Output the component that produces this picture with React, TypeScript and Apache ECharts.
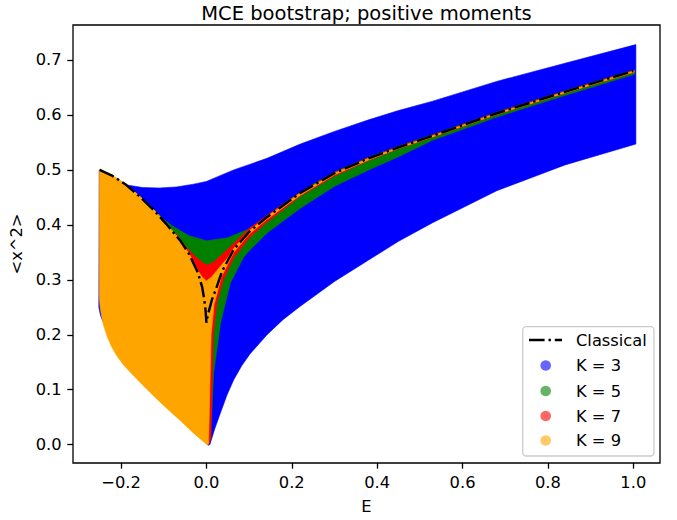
import React, { useEffect, useRef } from "react";
import * as echarts from "echarts";

type Pt = [number, number];

const titleText = "MCE bootstrap; positive moments";
const xTicks = [-0.2, 0.0, 0.2, 0.4, 0.6, 0.8, 1.0];
const yTicks = [0.0, 0.1, 0.2, 0.3, 0.4, 0.5, 0.6, 0.7];
const legendNames = ["Classical", "K = 3", "K = 5", "K = 7", "K = 9"];
const regionColors = ["#0000ff", "#008000", "#ff0000", "#ffa500"];
const legendColors = ["rgba(0,0,255,0.6)", "rgba(0,128,0,0.6)", "rgba(255,0,0,0.6)", "rgba(255,165,0,0.6)"];

// Classical <x^2>(E), dash-dot curve (left branch down to the cusp, then right branch)
const classical: Pt[] = [
  [-0.25, 0.5], [-0.22, 0.489], [-0.19, 0.474], [-0.15, 0.447], [-0.12, 0.424],
  [-0.09, 0.398], [-0.06, 0.37], [-0.04, 0.346], [-0.02, 0.313], [-0.01, 0.287],
  [-0.005, 0.264], [-0.002, 0.245], [0.0, 0.222], [0.003, 0.235], [0.013, 0.264],
  [0.021, 0.28], [0.037, 0.316], [0.064, 0.355], [0.1, 0.387], [0.14, 0.413],
  [0.22, 0.458], [0.3, 0.494], [0.38, 0.521], [0.45, 0.541], [0.53, 0.562],
  [0.68, 0.603], [0.84, 0.642], [1.0, 0.68],
];

// K = 3 allowed region (upper and lower boundaries, left to right)
const k3Upper: Pt[] = [
  [-0.251, 0.5], [-0.22, 0.482], [-0.19, 0.473], [-0.15, 0.468], [-0.11, 0.467],
  [-0.07, 0.469], [-0.03, 0.474], [0.0, 0.479], [0.064, 0.5], [0.142, 0.521],
  [0.22, 0.547], [0.3, 0.57], [0.38, 0.591], [0.45, 0.608], [0.53, 0.625],
  [0.68, 0.661], [0.84, 0.694], [1.006, 0.728],
];
const k3Lower: Pt[] = [
  [-0.252, 0.25], [-0.248, 0.235], [-0.24, 0.22], [-0.2, 0.16], [-0.12, 0.09],
  [-0.03, 0.03], [0.0, 0.004], [0.004, -0.001], [0.008, 0.0], [0.02, 0.03],
  [0.033, 0.058], [0.048, 0.09], [0.064, 0.118], [0.083, 0.144], [0.103, 0.166],
  [0.142, 0.2], [0.18, 0.228], [0.22, 0.252], [0.3, 0.297], [0.38, 0.336],
  [0.45, 0.37], [0.53, 0.404], [0.68, 0.462], [0.84, 0.509], [1.006, 0.547],
];

// K = 5
const k5Upper: Pt[] = [
  [-0.13, 0.433], [-0.1, 0.41], [-0.08, 0.398], [-0.04, 0.38], [0.0, 0.371],
  [0.048, 0.376], [0.095, 0.391], [0.126, 0.406], [0.16, 0.427], [0.2, 0.449],
  [0.25, 0.474], [0.3, 0.496], [0.38, 0.523], [0.45, 0.543], [0.53, 0.564],
  [0.68, 0.605], [0.84, 0.644], [1.003, 0.682],
];
const k5Lower: Pt[] = [
  [-0.13, 0.4], [-0.05, 0.15], [0.004, 0.0], [0.01, 0.01], [0.017, 0.13],
  [0.033, 0.221], [0.056, 0.294], [0.087, 0.341], [0.103, 0.355], [0.142, 0.385],
  [0.22, 0.43], [0.3, 0.47], [0.38, 0.5], [0.45, 0.524], [0.53, 0.554],
  [0.68, 0.596], [0.84, 0.6355], [1.003, 0.674],
];

// K = 7
const k7Upper: Pt[] = [
  [-0.07, 0.384], [-0.05, 0.362], [-0.03, 0.345], [-0.01, 0.332], [0.0, 0.327],
  [0.015, 0.331], [0.035, 0.345], [0.064, 0.366], [0.1, 0.393], [0.14, 0.416],
  [0.22, 0.459], [0.3, 0.495], [0.38, 0.522], [0.45, 0.542], [0.53, 0.563],
  [0.68, 0.604], [0.84, 0.643], [1.002, 0.681],
];
const k7Lower: Pt[] = [
  [-0.07, 0.35], [-0.03, 0.15], [0.005, 0.0], [0.01, 0.01], [0.013, 0.1],
  [0.016, 0.2], [0.025, 0.26], [0.04, 0.3], [0.064, 0.34], [0.1, 0.376],
  [0.14, 0.404], [0.22, 0.452], [0.3, 0.489], [0.38, 0.517], [0.45, 0.5385],
  [0.53, 0.5595], [0.68, 0.6005], [0.84, 0.6395], [1.002, 0.6775],
];

// K = 9
const k9Upper: Pt[] = [
  [-0.251, 0.501], [-0.22, 0.49], [-0.19, 0.475], [-0.15, 0.448], [-0.12, 0.425],
  [-0.09, 0.399], [-0.06, 0.371], [-0.04, 0.347], [-0.02, 0.317], [-0.01, 0.305],
  [0.0, 0.298], [0.012, 0.305], [0.03, 0.322], [0.05, 0.34], [0.064, 0.357],
  [0.1, 0.389], [0.14, 0.414], [0.22, 0.458], [0.3, 0.494], [0.38, 0.521],
  [0.45, 0.541], [0.53, 0.562], [0.68, 0.603], [0.84, 0.642], [1.002, 0.68],
];
const k9Lower: Pt[] = [
  [-0.251, 0.27], [-0.249, 0.25], [-0.245, 0.232], [-0.24, 0.215], [-0.232, 0.196],
  [-0.222, 0.178], [-0.21, 0.162], [-0.195, 0.146], [-0.175, 0.129], [-0.15, 0.109],
  [-0.12, 0.086], [-0.09, 0.064], [-0.06, 0.043], [-0.03, 0.021], [0.0, 0.001],
  [0.005, 0.001], [0.008, 0.1], [0.011, 0.2], [0.018, 0.255], [0.035, 0.305],
  [0.064, 0.35], [0.1, 0.383], [0.14, 0.409], [0.22, 0.454], [0.3, 0.491],
  [0.38, 0.518], [0.45, 0.539], [0.53, 0.56], [0.68, 0.601], [0.84, 0.64],
  [1.002, 0.678],
];

const regions: [Pt[], Pt[]][] = [
  [k3Upper, k3Lower],
  [k5Upper, k5Lower],
  [k7Upper, k7Lower],
  [k9Upper, k9Lower],
];

const FONT = "DejaVu Sans";
const fmt = (v: number) => (v < 0 ? "\u2212" + Math.abs(v).toFixed(1) : v.toFixed(1));

export default function App() {
  const ref = useRef<HTMLDivElement>(null);
  useEffect(() => {
    if (!ref.current) return;
    const chart = echarts.init(ref.current, null, { renderer: "svg" });

    const regionSeries = regions.map(([up, lo], i) => {
      const pts = up.concat(lo.slice().reverse());
      return {
        type: "custom",
        name: legendNames[i + 1],
        data: pts,
        encode: { x: 0, y: 1 },
        silent: true,
        z: 2,
        renderItem: (params: any, api: any) => {
          if (params.dataIndex !== 0) return null;
          const points = pts.map((p) => api.coord(p));
          return {
            type: "polygon",
            shape: { points },
            style: { fill: regionColors[i], stroke: regionColors[i], lineWidth: 0.6 },
          };
        },
      };
    });

    const legendY = [340, 365.5, 391, 416, 440.5];
    const legendGraphics: any[] = [
      {
        type: "rect",
        shape: { x: 522.7, y: 326.7, width: 131.3, height: 129.3, r: 3.5 },
        style: { fill: "rgba(255,255,255,0.8)", stroke: "#cccccc", lineWidth: 1.3 },
        z: 10,
      },
      {
        type: "line",
        shape: { x1: 529, y1: legendY[0], x2: 562, y2: legendY[0] },
        style: { stroke: "#000", lineWidth: 2.44, lineDash: [15.6, 3.9, 2.4, 3.9] },
        z: 11,
      },
    ];
    legendNames.forEach((n, i) => {
      if (i > 0) {
        legendGraphics.push({
          type: "circle",
          shape: { cx: 545.7, cy: legendY[i], r: 5.3 },
          style: { fill: legendColors[i - 1] },
          z: 11,
        });
      }
      legendGraphics.push({
        type: "text",
        x: 576,
        y: legendY[i],
        style: {
          text: n,
          font: `16.3px "${FONT}"`,
          fill: "#000",
          textAlign: "left",
          textVerticalAlign: "middle",
        },
        z: 11,
      });
    });

    chart.setOption({
      animation: false,
      grid: {
        left: 73,
        right: 17,
        top: 25,
        bottom: 57,
        show: true,
        borderColor: "#000",
        borderWidth: 1.3,
        backgroundColor: "transparent",
      },
      xAxis: {
        type: "value",
        min: -0.3125,
        max: 1.0625,
        name: "E",
        nameLocation: "middle",
        nameGap: 35,
        nameTextStyle: { fontFamily: FONT, fontSize: 16.3, color: "#000" },
        axisLine: { show: false, onZero: false },
        splitLine: { show: false },
        axisTick: { show: true, customValues: xTicks, length: 5.7, lineStyle: { color: "#000", width: 1.3 } },
        axisLabel: {
          customValues: xTicks,
          formatter: fmt,
          margin: 11.4,
          fontFamily: FONT,
          fontSize: 16.3,
          color: "#000",
        },
      },
      yAxis: {
        type: "value",
        min: -0.0333,
        max: 0.7636,
        name: "<x^2>",
        nameLocation: "middle",
        nameRotate: 90,
        nameGap: 42,
        nameTextStyle: { fontFamily: FONT, fontSize: 16.3, color: "#000" },
        axisLine: { show: false, onZero: false },
        splitLine: { show: false },
        axisTick: { show: true, customValues: yTicks, length: 5.7, lineStyle: { color: "#000", width: 1.3 } },
        axisLabel: {
          customValues: yTicks,
          formatter: fmt,
          margin: 11.4,
          fontFamily: FONT,
          fontSize: 16.3,
          color: "#000",
        },
      },
      series: [
        ...regionSeries,
        {
          type: "line",
          name: legendNames[0],
          data: classical,
          symbol: "none",
          z: 5,
          lineStyle: { color: "#000", width: 2.44, type: [15.6, 3.9, 2.4, 3.9], cap: "butt" },
          silent: true,
        },
      ],
      graphic: [
        {
          type: "text",
          x: 366.5,
          y: 13,
          style: {
            text: titleText,
            font: `19.5px "${FONT}"`,
            fill: "#000",
            textAlign: "center",
            textVerticalAlign: "middle",
          },
        },
        ...legendGraphics,
      ],
    });
    return () => chart.dispose();
  }, []);
  return (
    <div
      ref={ref}
      style={{ position: "absolute", left: 0, top: 0, width: 677, height: 520 }}
    />
  );
}
